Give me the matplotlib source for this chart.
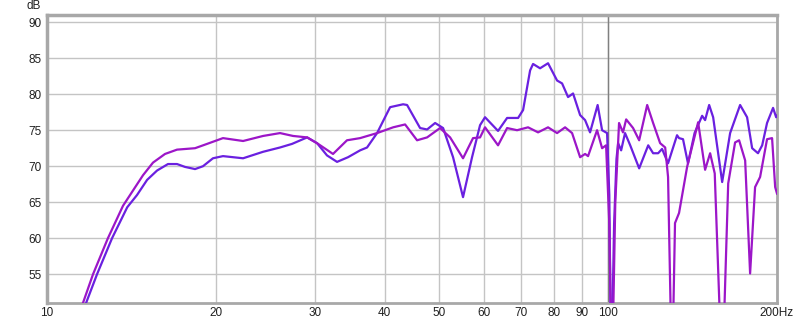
import matplotlib
matplotlib.use("Agg")
import matplotlib.pyplot as plt
from matplotlib.ticker import FixedLocator, NullLocator

# ---- data ----
freq_a = [11.22, 11.74, 12.28, 13.06, 13.9, 14.47, 15.08, 15.71, 16.43, 17.05,
          17.62, 18.36, 18.97, 19.76, 20.59, 22.36, 24.27, 26.02, 27.34, 29.08,
          30.29, 31.55, 32.88, 34.40, 36.14, 37.19, 38.75, 40.88,
          43.12, 43.83, 46.23, 47.58, 49.17, 50.81, 52.93, 55.14, 57.22, 59.13,
          60.35, 63.66, 66.07, 69.12, 70.55, 72.61, 73.50, 75.64, 78.16, 81.11,
          82.79, 84.85, 86.61, 89.15, 90.99, 92.87, 95.8, 97.57, 99.59, 100.5,
          101.3, 102.5, 103.5, 104.2, 105.5, 107.2, 109.5, 113.6, 116.4, 117.9,
          120.3, 122.8, 124.8, 127.9, 132.7, 133.8, 136.0, 138.8, 142.6, 147.1,
          148.9, 151.4, 153.9, 159.7, 165.0, 171.9, 176.9, 180.6, 185.0, 188.2,
          192.0, 196.8, 199.3, 200.0]
db_a = [47.2, 51.0, 55.0, 60.0, 64.3, 66.0, 68.1, 69.4, 70.3, 70.3,
        69.9, 69.6, 70.0, 71.1, 71.4, 71.1, 72.0, 72.6, 73.1, 74.0,
        73.2, 71.5, 70.6, 71.25, 72.2, 72.6, 74.6, 78.2,
        78.6, 78.5, 75.3, 75.1, 76.0, 75.3, 71.25, 65.7, 71.25, 75.7,
        76.8, 74.9, 76.7, 76.7, 77.8, 83.3, 84.2, 83.6, 84.3, 81.9,
        81.5, 79.6, 80.1, 77.1, 76.4, 74.7, 78.5, 75.0, 74.6, 66.0,
        40.0, 62.0, 71.0, 73.2, 72.2, 74.6, 72.9, 69.7, 71.8, 72.9,
        71.8, 71.8, 72.4, 70.4, 74.3, 73.9, 73.75, 70.4, 74.6, 77.0,
        76.4, 78.5, 76.8, 67.8, 74.6, 78.5, 76.8, 72.5, 71.8, 72.9,
        76.0, 78.1, 76.8, 77.0]

freq_b = [11.22, 11.59, 12.08, 12.84, 13.66, 14.83, 15.45, 16.23, 17.05, 18.36,
          19.29, 20.59, 22.36, 24.27, 26.02, 27.45, 29.08, 30.42, 32.34, 34.25,
          36.14, 38.75, 41.39,
          43.47, 45.66, 47.58, 50.18, 52.29, 55.14, 57.45, 59.13, 60.35, 63.66,
          66.07, 68.83, 72.01, 75.02, 78.16, 81.11, 83.82, 86.26, 89.15, 90.99,
          92.11, 95.58, 97.57, 99.18, 100.5, 101.6, 103.0, 104.6, 106.3, 107.7,
          110.8, 113.6, 117.4, 120.3, 123.8, 126.4, 127.9, 130.0, 131.6, 133.8,
          138.3, 144.7, 148.9, 152.0, 154.9, 159.7, 163.7, 168.4, 171.2, 175.5,
          179.1, 182.8, 186.6, 192.0, 196.0, 198.5, 200.0]
db_b = [48.2, 51.0, 55.0, 60.0, 64.5, 68.75, 70.5, 71.7, 72.3, 72.5,
        73.1, 73.9, 73.5, 74.2, 74.6, 74.2, 74.0, 73.1, 71.7, 73.6,
        73.9, 74.6, 75.4,
        75.8, 73.6, 74.0, 75.3, 74.0, 71.1, 73.9, 74.0, 75.4, 72.9,
        75.3, 75.0, 75.4, 74.7, 75.4, 74.6, 75.4, 74.6, 71.25, 71.7,
        71.4, 75.0, 72.5, 72.9, 62.0, 40.0, 65.0, 76.0, 74.7, 76.5,
        75.3, 73.6, 78.5, 76.0, 73.2, 72.6, 68.5, 40.0, 62.1, 63.5,
        69.9, 76.1, 69.5, 71.8, 69.0, 40.0, 67.6, 73.3, 73.6, 70.8,
        55.1, 67.1, 68.5, 73.75, 73.9, 67.1, 66.2]

x_ticks = [10, 20, 30, 40, 50, 60, 70, 80, 90, 100, 200]
x_labels = ["10", "20", "30", "40", "50", "60", "70", "80", "90", "100", "200Hz"]
y_ticks = [55, 60, 65, 70, 75, 80, 85, 90]

# ---- figure ----
plt.rcParams['font.family'] = ['Liberation Sans', 'DejaVu Sans']
fig = plt.figure(figsize=(8.0, 3.24), dpi=100)
ax = fig.add_axes([47 / 800, 21 / 324, 730 / 800, 288 / 324])
ax.set_xscale('log')
ax.set_xlim(10, 200)
ax.set_ylim(51, 91)

ax.xaxis.set_major_locator(FixedLocator(x_ticks))
ax.xaxis.set_minor_locator(NullLocator())
ax.set_xticklabels(x_labels)
ax.set_yticks(y_ticks)
ax.set_yticklabels([str(v) for v in y_ticks])
ax.tick_params(length=0, labelsize=8.5, colors='#202020', pad=4)
ax.tick_params(axis='x', pad=3)

ax.grid(True, color='#c4c4c4', linewidth=1.0)
ax.set_axisbelow(True)
ax.axvline(100, color='#808080', linewidth=1.0, zorder=1.5)

for s in ax.spines.values():
    s.set_color('#a8a8a8')
    s.set_linewidth(2.0)
ax.spines['left'].set_linewidth(2.5)
ax.spines['top'].set_linewidth(2.5)

ax.plot(freq_a, db_a, color='#6a20e0', linewidth=1.6, zorder=3,
        solid_joinstyle='round', antialiased=True)
ax.plot(freq_b, db_b, color='#9c16c8', linewidth=1.6, zorder=3,
        solid_joinstyle='round', antialiased=True)

fig.text(34 / 800, 1 - 6 / 324, "dB", ha='center', va='center', fontsize=8.5, color='#202020')

fig.savefig("out.png", dpi=100)
